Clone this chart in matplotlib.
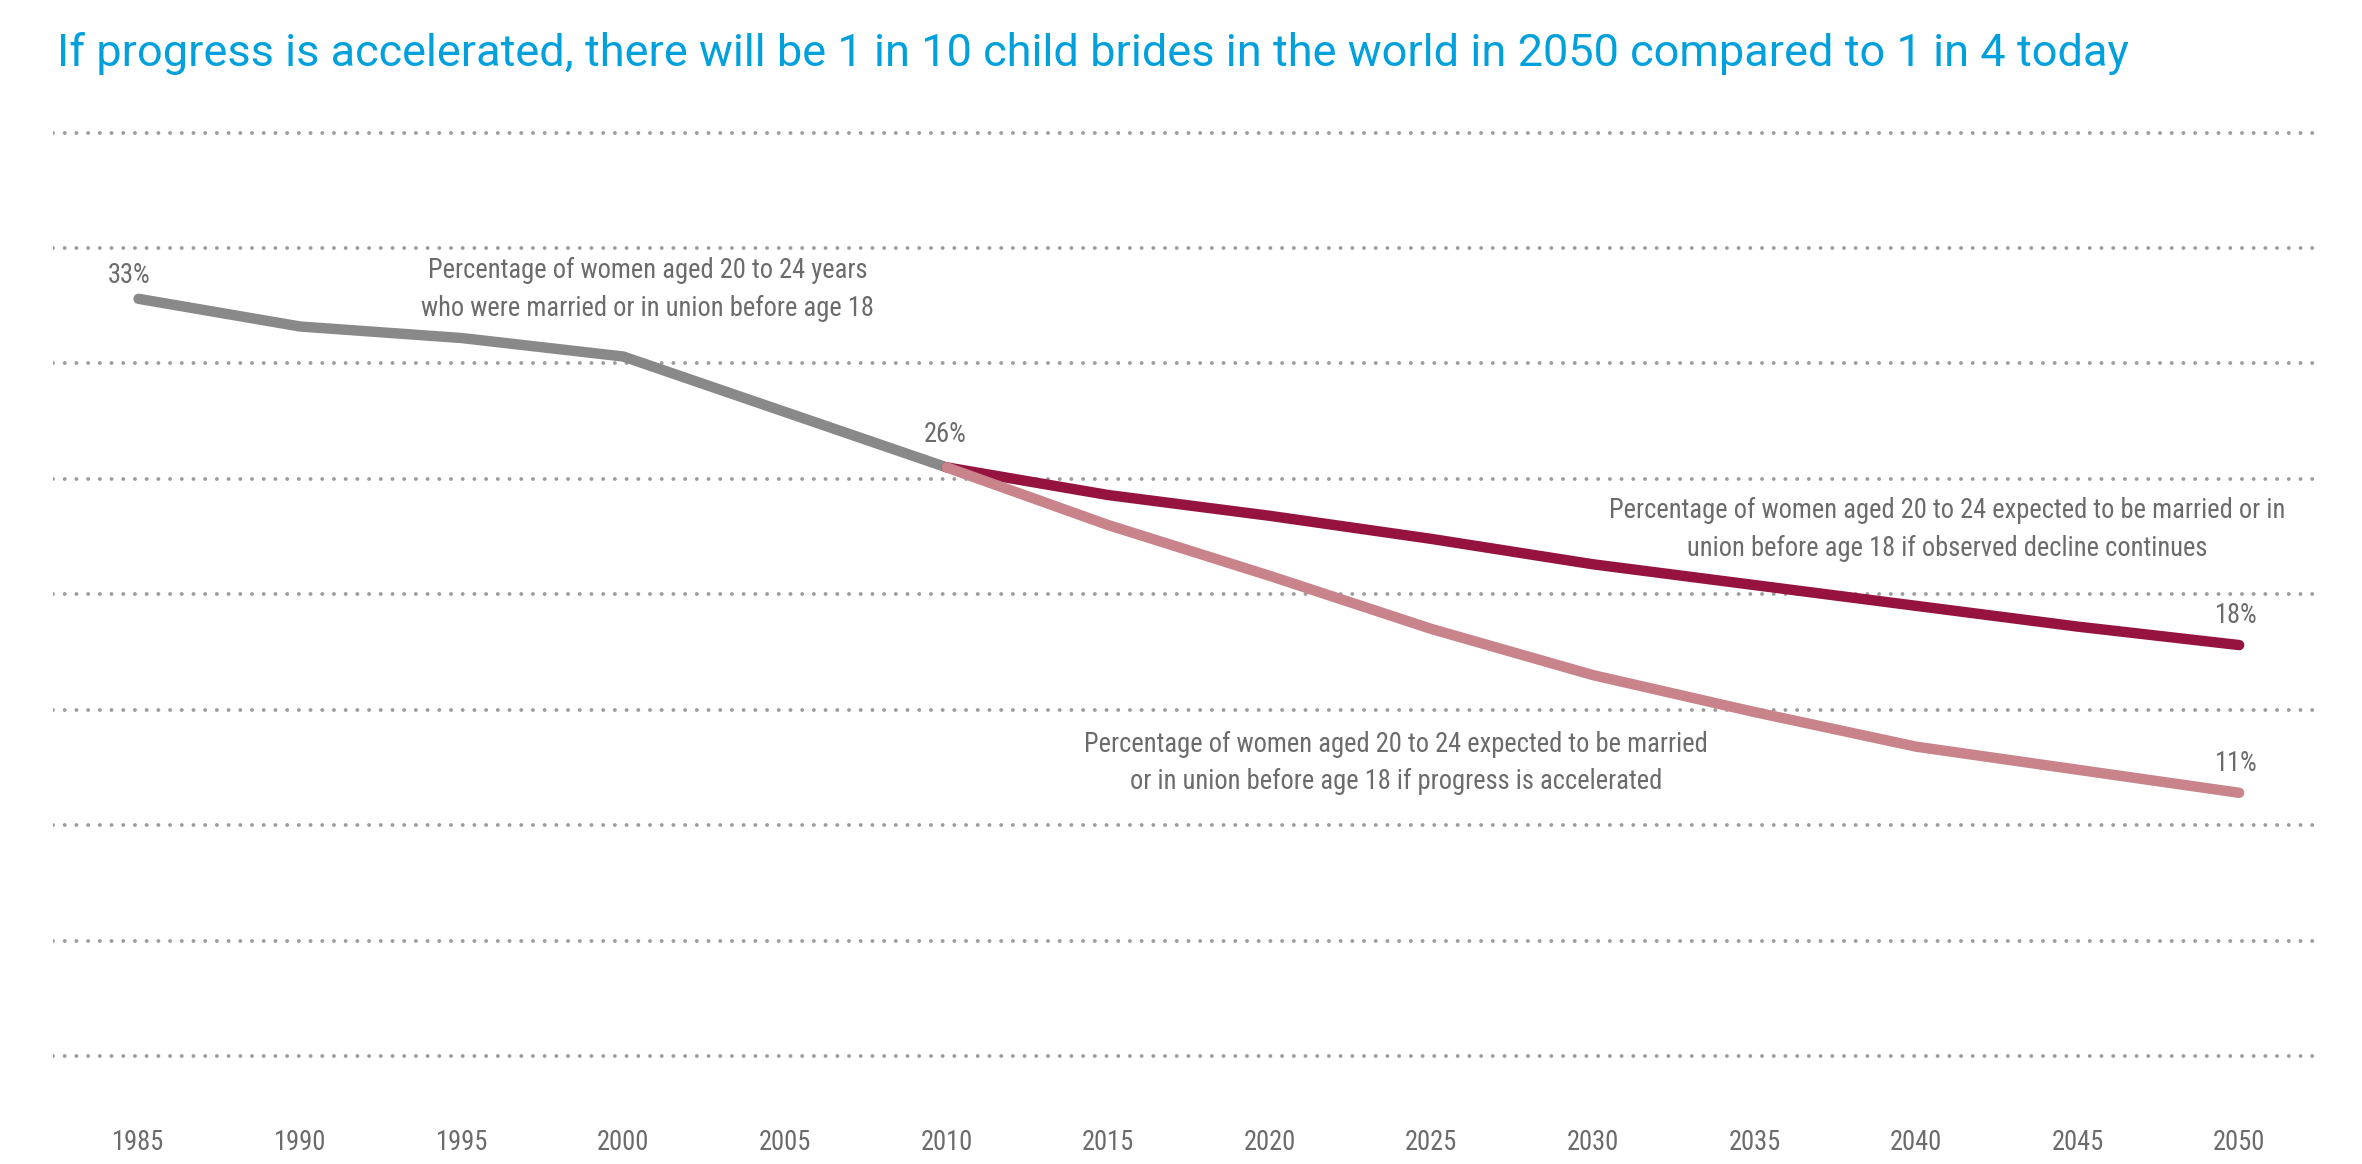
import matplotlib
matplotlib.use("Agg")
import matplotlib.pyplot as plt
from matplotlib import font_manager

installed = {f.name for f in font_manager.fontManager.ttflist}


def pick(prefs):
    for p in prefs:
        if p in installed:
            return p
    return "DejaVu Sans"


small_font = pick(["Roboto Condensed", "Barlow Condensed", "Archivo Narrow",
                   "Asap Condensed", "Liberation Sans Narrow"])
title_font = pick(["Roboto", "Open Sans", "DejaVu Sans"])
plt.rcParams['font.family'] = [small_font, 'DejaVu Sans']

# values (percent)
years_hist = [1985, 1990, 1995, 2000, 2005, 2010]
pct_hist = [32.8, 31.6, 31.1, 30.3, 27.9, 25.5]

years_proj = [2010, 2015, 2020, 2025, 2030, 2035, 2040, 2045, 2050]
pct_observed = [25.5, 24.3, 23.4, 22.4, 21.3, 20.4, 19.5, 18.6, 17.8]
pct_accel = [25.5, 23.0, 20.8, 18.5, 16.5, 14.9, 13.4, 12.4, 11.4]

tick_years = list(range(1985, 2051, 5))
grid_levels = list(range(0, 41, 5))

title = "If progress is accelerated, there will be 1 in 10 child brides in the world in 2050 compared to 1 in 4 today"
note_hist = "Percentage of women aged 20 to 24 years\nwho were married or in union before age 18"
note_obs = ("Percentage of women aged 20 to 24 expected to be married or in\n"
            "union before age 18 if observed decline continues")
note_acc = ("Percentage of women aged 20 to 24 expected to be married\n"
            "or in union before age 18 if progress is accelerated")

txt_col = "#6b6b6b"
fs = 19

fig = plt.figure(figsize=(23.62, 11.64), dpi=100)
ax = fig.add_axes([0.0224, 0.0829, 0.9598, 0.8131])

for g in grid_levels:
    ax.axhline(g, color="#9c9c9c", lw=2.8, ls=(0, (0.01, 3.0)),
               dash_capstyle="round", zorder=1)

ax.plot(years_hist, pct_hist, color="#898989", lw=7.5,
        solid_capstyle="round", solid_joinstyle="round", zorder=3)
ax.plot(years_proj, pct_observed, color="#961340", lw=7.5,
        solid_capstyle="round", solid_joinstyle="round", zorder=3)
ax.plot(years_proj, pct_accel, color="#c9838b", lw=7.5,
        solid_capstyle="round", solid_joinstyle="round", zorder=4)

ax.set_xlim(1982.35, 2052.5)
ax.set_ylim(-0.5, 40.5)
ax.set_xticks(tick_years)
ax.set_xticklabels([str(y) for y in tick_years], fontsize=fs, color=txt_col)
ax.tick_params(axis="x", length=0, pad=44)
ax.set_yticks([])
for s in ax.spines.values():
    s.set_visible(False)

labels = []
labels.append(ax.text(1984.7, 33.8, "33%", fontsize=fs, color=txt_col, ha="center", va="center"))
labels.append(ax.text(2009.97, 26.9, "26%", fontsize=fs, color=txt_col, ha="center", va="center"))
labels.append(ax.text(2049.9, 19.1, "18%", fontsize=fs, color=txt_col, ha="center", va="center"))
labels.append(ax.text(2049.9, 12.65, "11%", fontsize=fs, color=txt_col, ha="center", va="center"))

t_hist = ax.text(2000.75, 33.2, note_hist, fontsize=fs, color=txt_col,
                 ha="center", va="center", linespacing=1.5)
t_obs = ax.text(2040.97, 22.8, note_obs, fontsize=fs, color=txt_col,
                ha="center", va="center", linespacing=1.5)
t_acc = ax.text(2023.9, 12.7, note_acc, fontsize=fs, color=txt_col,
                ha="center", va="center", linespacing=1.5)

t_title = fig.text(0.024, 0.954, title, fontsize=30, color="#00a0dc",
                   ha="left", va="center", family=[title_font, "DejaVu Sans"])

# scale text so its width matches the reference
fig.canvas.draw()
r = fig.canvas.get_renderer()
w = t_title.get_window_extent(r).width
t_title.set_fontsize(30 * 2067.0 / w)
w = t_obs.get_window_extent(r).width
k = 678.0 / w
for t in [t_hist, t_obs, t_acc] + labels + ax.get_xticklabels():
    t.set_fontsize(fs * k)

fig.savefig("out.png", dpi=100)
